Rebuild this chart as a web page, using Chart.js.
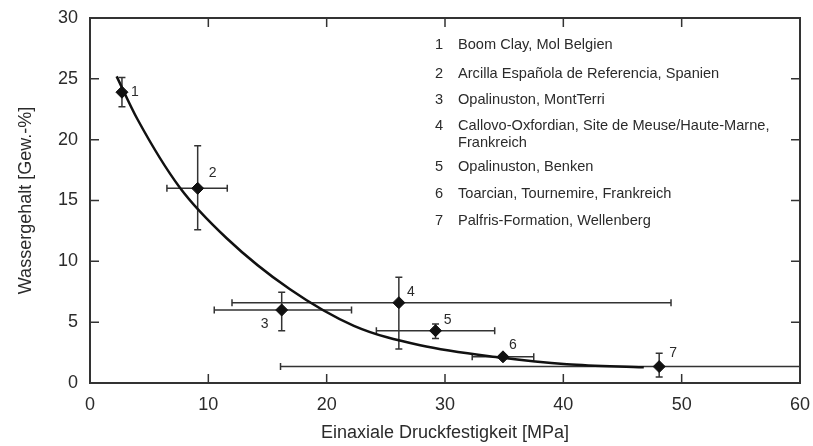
<!DOCTYPE html>
<html>
<head>
<meta charset="utf-8">
<script src="https://cdn.jsdelivr.net/npm/chart.js@4.4.1/dist/chart.umd.min.js"></script>
<style>
  html, body { margin: 0; padding: 0; background: #fff; }
  #wrap { width: 813px; height: 446px; }
</style>
</head>
<body>
<div id="wrap"><canvas id="chart" width="813" height="446"></canvas></div>
<script>
// samples: uniaxial strength [MPa] vs. water content [wt.-%]
var sampleIds = ['1', '2', '3', '4', '5', '6', '7'];
var strength = [2.7, 9.1, 16.2, 26.1, 29.2, 34.9, 48.1];
var strengthLow = [null, 6.5, 10.5, 12.0, 24.2, 32.3, 16.1];
var strengthHigh = [null, 11.6, 22.1, 49.1, 34.2, 37.5, 60];
var water = [23.9, 16.0, 6.0, 6.6, 4.3, 2.15, 1.35];
var waterLow = [22.7, 12.6, 4.3, 2.8, 3.65, null, 0.5];
var waterHigh = [25.1, 19.5, 7.45, 8.7, 4.85, null, 2.45];

var trendX = [2.25, 4.0, 7.6, 11.55, 16.9, 22.3, 27.9, 34.7, 40.3, 46.8];
var trendY = [25.2, 21.7, 16.05, 11.9, 7.7, 4.7, 3.1, 2.09, 1.54, 1.29];

var xTicks = [0, 10, 20, 30, 40, 50, 60];
var yTicks = [0, 5, 10, 15, 20, 25, 30];

var siteNames = [
  ['Boom Clay, Mol Belgien'],
  ['Arcilla Española de Referencia, Spanien'],
  ['Opalinuston, MontTerri'],
  ['Callovo-Oxfordian, Site de Meuse/Haute-Marne,', 'Frankreich'],
  ['Opalinuston, Benken'],
  ['Toarcian, Tournemire, Frankreich'],
  ['Palfris-Formation, Wellenberg']
];

var FONT = "'Liberation Sans', Arial, sans-serif";
var INK = '#2b2b2b';

var points = strength.map(function(x, i) { return { x: x, y: water[i] }; });
var trend = trendX.map(function(x, i) { return { x: x, y: trendY[i] }; });

// error bars, drawn under the markers
var errorBars = {
  id: 'errorBars',
  beforeDatasetsDraw: function(chart) {
    var ctx = chart.ctx, xs = chart.scales.x, ys = chart.scales.y;
    var cap = 3.5;
    ctx.save();
    ctx.strokeStyle = '#333';
    ctx.lineWidth = 1.5;
    ctx.beginPath();
    for (var i = 0; i < strength.length; i++) {
      var px = xs.getPixelForValue(strength[i]);
      var py = ys.getPixelForValue(water[i]);
      if (strengthLow[i] !== null) {
        var x1 = xs.getPixelForValue(strengthLow[i]);
        var x2 = xs.getPixelForValue(strengthHigh[i]);
        ctx.moveTo(x1, py); ctx.lineTo(x2, py);
        ctx.moveTo(x1, py - cap); ctx.lineTo(x1, py + cap);
        if (strengthHigh[i] < xs.max) {
          ctx.moveTo(x2, py - cap); ctx.lineTo(x2, py + cap);
        }
      }
      if (waterLow[i] !== null) {
        var y1 = ys.getPixelForValue(waterLow[i]);
        var y2 = ys.getPixelForValue(waterHigh[i]);
        ctx.moveTo(px, y1); ctx.lineTo(px, y2);
        ctx.moveTo(px - cap, y1); ctx.lineTo(px + cap, y1);
        ctx.moveTo(px - cap, y2); ctx.lineTo(px + cap, y2);
      }
    }
    ctx.stroke();
    ctx.restore();
  }
};

// frame, inward ticks, point numbers and the site list
var decorations = {
  id: 'decorations',
  afterDatasetsDraw: function(chart) {
    var ctx = chart.ctx, a = chart.chartArea, xs = chart.scales.x, ys = chart.scales.y;
    var tl = 9;
    ctx.save();
    ctx.strokeStyle = '#333';
    ctx.lineWidth = 1.5;
    ctx.beginPath();
    xTicks.forEach(function(v) {
      if (v <= xs.min || v >= xs.max) return;
      var px = xs.getPixelForValue(v);
      ctx.moveTo(px, a.bottom); ctx.lineTo(px, a.bottom - tl);
      ctx.moveTo(px, a.top); ctx.lineTo(px, a.top + tl);
    });
    yTicks.forEach(function(v) {
      if (v <= ys.min || v >= ys.max) return;
      var py = ys.getPixelForValue(v);
      ctx.moveTo(a.left, py); ctx.lineTo(a.left + tl, py);
      ctx.moveTo(a.right, py); ctx.lineTo(a.right - tl, py);
    });
    ctx.stroke();
    ctx.lineWidth = 2;
    ctx.strokeRect(a.left, a.top, a.right - a.left, a.bottom - a.top);

    // numbers beside the markers
    var offs = [[13, 0], [15, -15], [-17, 14], [12, -11], [12, -11], [10, -12], [14, -13]];
    ctx.fillStyle = INK;
    ctx.font = '14px ' + FONT;
    ctx.textAlign = 'center';
    ctx.textBaseline = 'middle';
    for (var i = 0; i < sampleIds.length; i++) {
      ctx.fillText(sampleIds[i],
        xs.getPixelForValue(strength[i]) + offs[i][0],
        ys.getPixelForValue(water[i]) + offs[i][1]);
    }

    // site list, upper right
    ctx.font = '14.6px ' + FONT;
    var numX = a.left + 349, textX = a.left + 368;
    var rows = [[31], [60], [86], [112, 129], [153], [180], [207]];
    ctx.textBaseline = 'alphabetic';
    for (var j = 0; j < siteNames.length; j++) {
      ctx.textAlign = 'center';
      ctx.fillText(sampleIds[j], numX, a.top + rows[j][0]);
      ctx.textAlign = 'left';
      for (var k = 0; k < siteNames[j].length; k++) {
        ctx.fillText(siteNames[j][k], textX, a.top + rows[j][k]);
      }
    }
    ctx.restore();
  }
};

var ctx = document.getElementById('chart').getContext('2d');
new Chart(ctx, {
  type: 'scatter',
  data: {
    datasets: [{
      data: points,
      pointStyle: 'rectRot',
      pointRadius: 6,
      backgroundColor: '#111',
      borderColor: '#111',
      borderWidth: 1
    }, {
      type: 'line',
      data: trend,
      borderColor: '#111',
      borderWidth: 2.5,
      pointRadius: 0,
      fill: false,
      cubicInterpolationMode: 'monotone'
    }]
  },
  options: {
    responsive: false,
    animation: false,
    devicePixelRatio: 1,
    layout: { padding: { top: 18, right: 13, left: 0, bottom: 0 } },
    plugins: { legend: { display: false }, tooltip: { enabled: false } },
    scales: {
      x: {
        type: 'linear', min: 0, max: 60,
        afterFit: function(s) { s.height = 63; s.paddingLeft = 0; s.paddingRight = 0; },
        afterBuildTicks: function(s) { s.ticks = xTicks.map(function(v) { return { value: v }; }); },
        grid: { display: false, drawTicks: false },
        border: { display: false },
        ticks: { color: INK, font: { family: FONT, size: 18 }, padding: 11, maxRotation: 0 },
        title: { display: true, text: 'Einaxiale Druckfestigkeit [MPa]', color: INK,
                 font: { family: FONT, size: 18 }, padding: { top: 0, bottom: 2 } }
      },
      y: {
        type: 'linear', min: 0, max: 30,
        afterFit: function(s) { s.width = 90; s.paddingTop = 0; s.paddingBottom = 0; },
        afterBuildTicks: function(s) { s.ticks = yTicks.map(function(v) { return { value: v }; }); },
        grid: { display: false, drawTicks: false },
        border: { display: false },
        ticks: { color: INK, font: { family: FONT, size: 18 }, padding: 12 },
        title: { display: true, text: 'Wassergehalt [Gew.-%]', color: INK,
                 font: { family: FONT, size: 18 }, padding: { top: 15, bottom: 0 } }
      }
    }
  },
  plugins: [errorBars, decorations]
});
</script>
</body>
</html>
